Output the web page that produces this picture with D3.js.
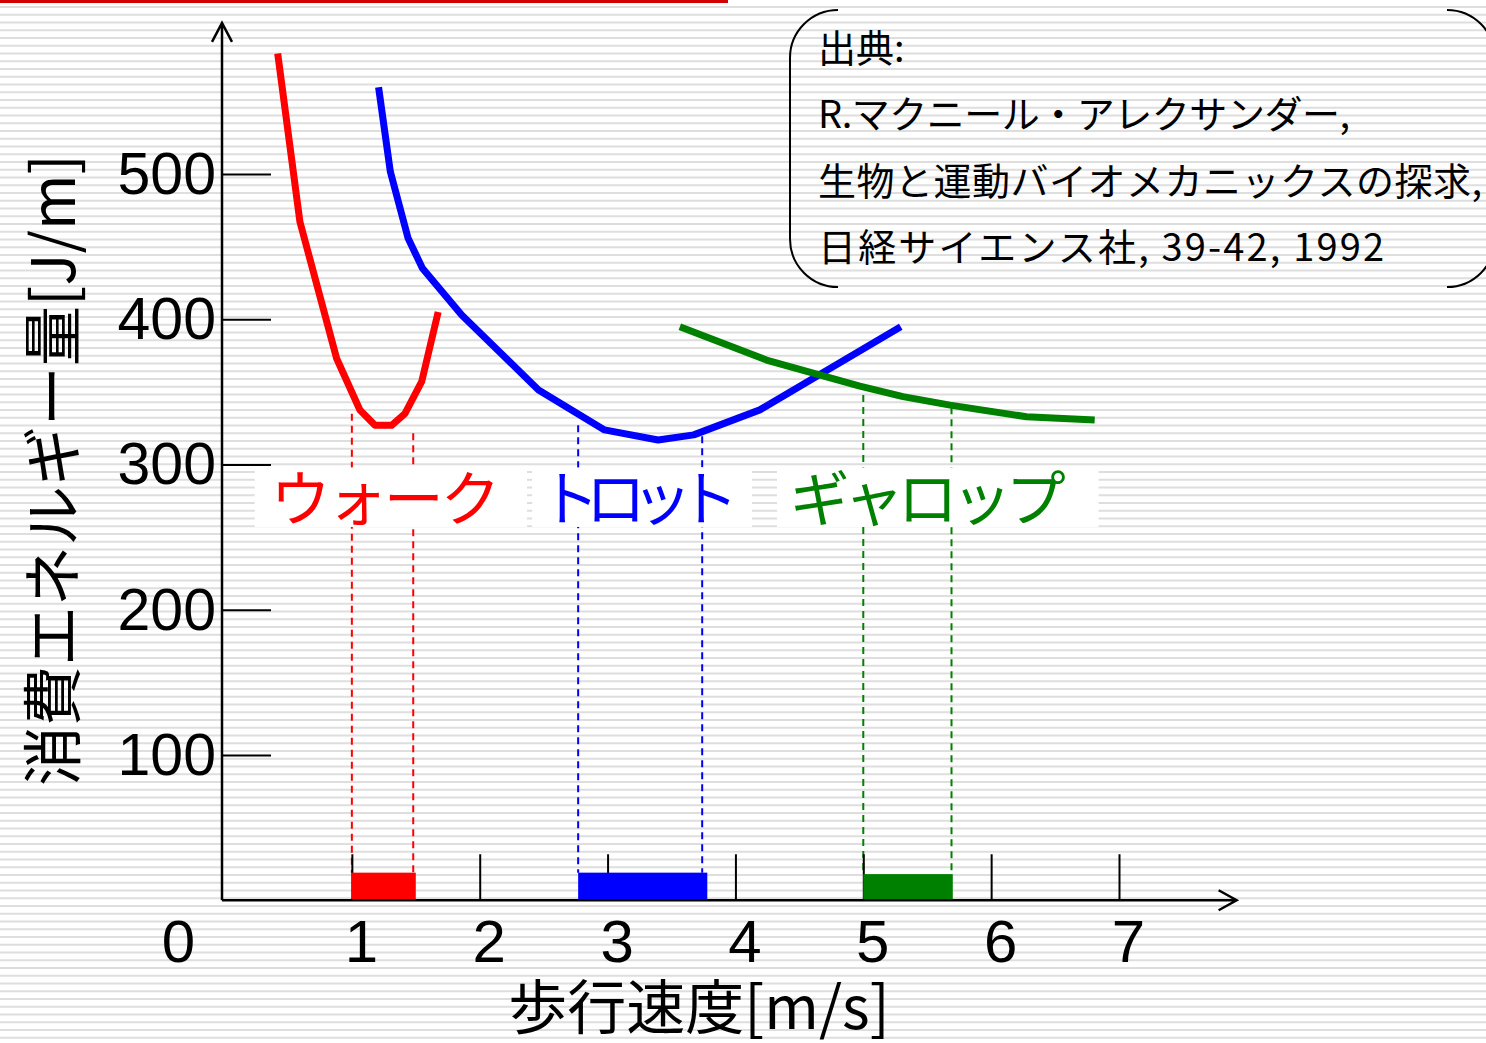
<!DOCTYPE html>
<html><head><meta charset="utf-8">
<script src="https://cdn.jsdelivr.net/npm/d3@7"></script>
<style>body{margin:0;background:#fff}svg{display:block}</style>
</head><body>
<svg id="c" width="1486" height="1043"></svg>
<script>
// ---- data ----
const walkSpeed  = [0.42, 0.594, 0.881, 1.063, 1.181, 1.311, 1.415, 1.546, 1.675];
const walkEnergy = [583, 467, 373, 337.5, 327, 327, 335, 357, 405];
const trotSpeed  = [1.209, 1.301, 1.44, 1.552, 1.859, 2.46, 2.976, 3.395, 3.674, 4.191, 4.66, 5.293];
const trotEnergy = [559.7, 501.6, 455.7, 435.1, 402.9, 351.3, 323.8, 316.9, 320.4, 337.6, 362, 394.9];
const gallopSpeed  = [3.565, 4.243, 4.973, 5.311, 5.679, 6.276, 6.81];
const gallopEnergy = [394.9, 371.9, 354.0, 346.7, 340.9, 332.9, 330.6];

const gaitNames  = ["ウォーク", "トロット", "ギャロップ"];
const gaitColors = ["#ff0000", "#0000ff", "#008000"];
const rangeStart = [1.0, 2.77, 5.0];     // preferred speed range (bars)
const rangeEnd   = [1.5, 3.78, 5.7];
const barTop     = [19, 19, 18];
const dashLeft   = [1.0, 2.77, 5.0];     // dashed guide lines
const dashRight  = [1.48, 3.74, 5.69];
const dashLeftTop  = [335, 327, 347.8];
const dashRightTop = [321.5, 319.5, 339.5];
const labelCenter  = [1.263, 3.245, 5.505];
const labelBoxFrom = [0.24, 2.41, 4.325];
const labelBoxTo   = [2.37, 4.13, 6.84];

const xTickValues = [0, 1, 2, 3, 4, 5, 6, 7];
const xTickLabels = ["0", "1", "2", "3", "4", "5", "6", "7"];
const yTickValues = [100, 200, 300, 400, 500];
const yTickLabels = ["100", "200", "300", "400", "500"];

const yTitle = "消費エネルギー量[J/m]";
const xTitle = "歩行速度[m/s]";
const citation = ["出典:", "R.マクニール・アレクサンダー,", "生物と運動バイオメカニックスの探求,", "日経サイエンス社, 39-42, 1992"];

// ---- drawing ----
const W = 1486, H = 1043;
const svg = d3.select("#c");
const x = d3.scaleLinear().domain([0, 7]).range([224, 1119]);
const y = d3.scaleLinear().domain([0, 500]).range([900.25, 174]);
const CJK = "'Noto Sans CJK JP', 'Noto Sans', sans-serif";

// background stripes
svg.append("rect").attr("width", W).attr("height", H).attr("fill", "#fff");
svg.append("g").selectAll("rect").data(d3.range(6, H, 7.75)).join("rect")
  .attr("x", 0).attr("y", d => d).attr("width", W).attr("height", 2).attr("fill", "#dedede");
svg.append("rect").attr("x", 0).attr("y", 0).attr("width", 728).attr("height", 3).attr("fill", "#d20000");

// dashed guides (drawn under the label boxes)
const dashes = [];
gaitNames.forEach((g, i) => {
  dashes.push({v: dashLeft[i], top: dashLeftTop[i], c: gaitColors[i], b: barTop[i]});
  dashes.push({v: dashRight[i], top: dashRightTop[i], c: gaitColors[i], b: barTop[i]});
});
svg.append("g").selectAll("line").data(dashes).join("line")
  .attr("x1", d => x(d.v)).attr("x2", d => x(d.v))
  .attr("y1", d => y(d.top)).attr("y2", d => y(d.b))
  .attr("stroke", d => d.c).attr("stroke-width", 2).attr("stroke-dasharray", "7,5");

// label boxes (white)
svg.append("g").selectAll("rect").data(gaitNames).join("rect")
  .attr("x", (d, i) => x(labelBoxFrom[i]))
  .attr("width", (d, i) => x(labelBoxTo[i]) - x(labelBoxFrom[i]))
  .attr("y", y(298)).attr("height", y(257) - y(298))
  .attr("fill", "#fff");

// axes
const axisX = x(0) - 2;
const yAxis = d3.axisLeft(y).tickValues(yTickValues).tickFormat((d, i) => yTickLabels[i])
  .tickSize(-49).tickPadding(6);
const gy = svg.append("g").attr("transform", `translate(${axisX},0)`).call(yAxis);
gy.select(".domain").remove();
gy.selectAll(".tick line").attr("stroke", "#000").attr("stroke-width", 2);
gy.selectAll(".tick text").attr("font-family", "'Liberation Sans', Arial, sans-serif")
  .attr("font-size", 59).attr("fill", "#000").attr("dy", "0.33em");

const xAxis = d3.axisBottom(x).tickValues(xTickValues).tickFormat((d, i) => xTickLabels[i])
  .tickSize(-46).tickPadding(19);
const gx = svg.append("g").attr("transform", `translate(0,${y(0)})`).call(xAxis);
gx.select(".domain").remove();
gx.selectAll(".tick line").attr("stroke", "#000").attr("stroke-width", 2)
  .attr("display", d => d === 0 ? "none" : null);
gx.selectAll(".tick text").attr("font-family", "'Liberation Sans', Arial, sans-serif")
  .attr("font-size", 60).attr("fill", "#000")
  .attr("x", d => d === 0 ? -46 : 9);

// axis lines with arrows
const yTop = y(604), xEnd = x(7.92);
svg.append("path")
  .attr("d", `M${axisX},${y(0)}V${yTop}M${axisX - 10},${yTop + 19}L${axisX},${yTop}L${axisX + 10},${yTop + 19}`)
  .attr("fill", "none").attr("stroke", "#000").attr("stroke-width", 2.5);
svg.append("path")
  .attr("d", `M${axisX},${y(0)}H${xEnd}M${xEnd - 18},${y(0) - 10}L${xEnd},${y(0)}L${xEnd - 18},${y(0) + 10}`)
  .attr("fill", "none").attr("stroke", "#000").attr("stroke-width", 2.5);

// range bars
svg.append("g").selectAll("rect").data(gaitNames).join("rect")
  .attr("x", (d, i) => x(rangeStart[i]))
  .attr("width", (d, i) => x(rangeEnd[i]) - x(rangeStart[i]))
  .attr("y", (d, i) => y(barTop[i]))
  .attr("height", (d, i) => y(0) - y(barTop[i]) - 1)
  .attr("fill", (d, i) => gaitColors[i]);

// curves
const line = d3.line().x(d => x(d[0])).y(d => y(d[1]));
const series = [
  d3.zip(walkSpeed, walkEnergy),
  d3.zip(trotSpeed, trotEnergy),
  d3.zip(gallopSpeed, gallopEnergy)
];
svg.append("g").selectAll("path").data(series).join("path")
  .attr("d", line).attr("fill", "none")
  .attr("stroke", (d, i) => gaitColors[i]).attr("stroke-width", 7)
  .attr("stroke-linejoin", "round");

// gait labels
const labelLen = [230, 199, 276];
svg.append("g").selectAll("text").data(gaitNames).join("text")
  .attr("x", (d, i) => x(labelCenter[i])).attr("y", y(279.5))
  .attr("text-anchor", "middle").attr("dominant-baseline", "central")
  .attr("font-family", CJK).attr("font-size", 60)
  .attr("textLength", (d, i) => labelLen[i]).attr("lengthAdjust", "spacing")
  .attr("fill", (d, i) => gaitColors[i]).text(d => d);

// axis titles
svg.append("text").attr("transform", "translate(48,470) rotate(-90)")
  .attr("text-anchor", "middle").attr("dominant-baseline", "central")
  .attr("font-family", CJK).attr("font-size", 60).attr("fill", "#000").text(yTitle);
svg.append("text").attr("x", 699).attr("y", 1029)
  .attr("text-anchor", "middle")
  .attr("font-family", CJK).attr("font-size", 59).attr("fill", "#000").text(xTitle);

// citation bracket box
svg.append("path")
  .attr("d", "M838,10A48,48 0 0 0 790,58V239A48,48 0 0 0 838,287M1447,10A48,48 0 0 1 1495,58V239A48,48 0 0 1 1447,287")
  .attr("fill", "none").attr("stroke", "#000").attr("stroke-width", 2);
const citeLen = [null, 532, 664, 566];
svg.append("g").selectAll("text").data(citation).join("text")
  .attr("x", 818).attr("y", (d, i) => 45 + i * 66.5)
  .attr("dominant-baseline", "central")
  .attr("font-family", CJK).attr("font-size", 38).attr("fill", "#000")
  .each(function(d, i) { if (citeLen[i]) d3.select(this).attr("textLength", citeLen[i]).attr("lengthAdjust", "spacing"); })
  .text(d => d);
</script>
</body></html>
